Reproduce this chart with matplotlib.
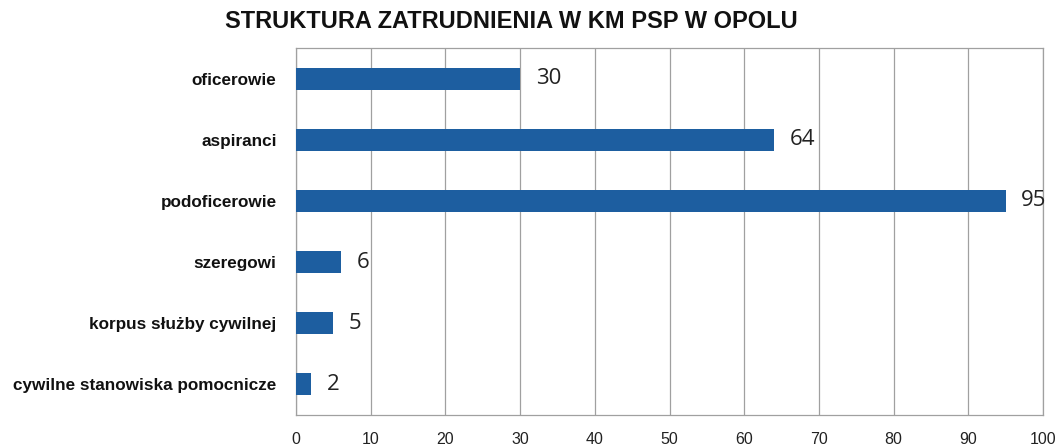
import matplotlib.pyplot as plt
from matplotlib import font_manager

kategorie = ["oficerowie", "aspiranci", "podoficerowie", "szeregowi",
             "korpus służby cywilnej", "cywilne stanowiska pomocnicze"]
liczba = [30, 64, 95, 6, 5, 2]
ticks = list(range(0, 101, 10))

names = {f.name for f in font_manager.fontManager.ttflist}
narrow = "Liberation Sans Narrow" if "Liberation Sans Narrow" in names else "Liberation Sans"

fig = plt.figure(figsize=(10.55, 4.45), dpi=100)
ax = fig.add_axes([0.2806, 0.0674, 0.708, 0.8246])

pos = list(range(len(kategorie)))
ax.barh(pos, liczba, height=0.36, color="#1d5ea0", zorder=3)
ax.set_ylim(len(kategorie) - 0.5, -0.5)
ax.set_xlim(0, 100)
ax.set_xticks(ticks)
ax.set_xticklabels([str(t) for t in ticks], fontsize=11.5, family=narrow, color="#222222")
ax.tick_params(length=0, pad=12)
ax.set_yticks(pos)
ax.set_yticklabels(kategorie, fontsize=12.3, family=narrow, fontweight="bold", color="#111111")
ax.tick_params(axis="y", pad=14)
ax.grid(axis="x", color="#a0a0a0", linewidth=0.9, zorder=0)
for s in ax.spines.values():
    s.set_color("#a0a0a0")
    s.set_linewidth(0.9)

for p, v in zip(pos, liczba):
    ax.text(v + 2.1, p, str(v), va="center", ha="left", fontsize=16,
            family="Open Sans", color="#222222", zorder=4)

fig.text(0.485, 0.952, "STRUKTURA ZATRUDNIENIA W KM PSP W OPOLU", ha="center", va="center",
         fontsize=17, family=narrow, fontweight="bold", color="#111111")

fig.savefig("out.png", dpi=100)
